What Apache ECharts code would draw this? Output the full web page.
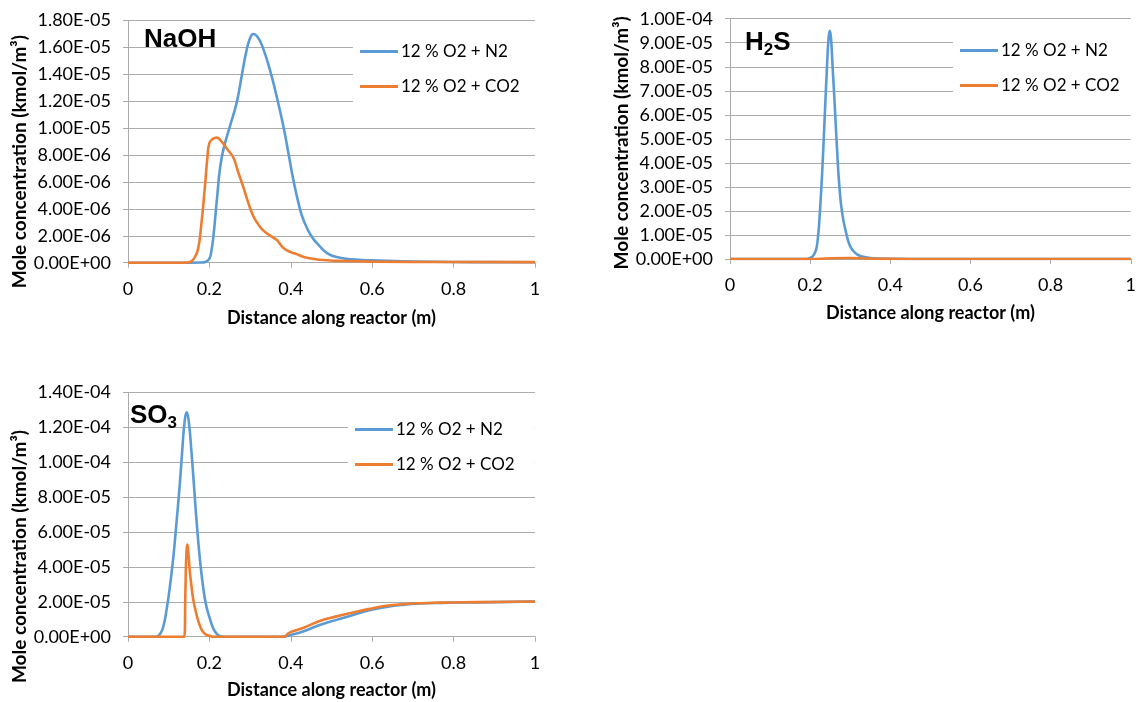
<!DOCTYPE html>
<html>
<head>
<meta charset="utf-8">
<script src="https://cdn.jsdelivr.net/npm/echarts@6/dist/echarts.min.js"></script>
<style>
html,body{margin:0;padding:0;background:#fff;}
#chart{width:1139px;height:702px;}
</style>
</head>
<body>
<div id="chart"></div>
<script>
// ---- Data (x in m, y in kmol/m3) ----
const seriesNames = ['12 % O2 + N2', '12 % O2 + CO2'];
const xTickLabels = ['0', '0.2', '0.4', '0.6', '0.8', '1'];

// NaOH, 12 % O2 + N2 (values x1e-6)
const naohN2X = [0, 0.1, 0.15, 0.18, 0.19, 0.2, 0.205, 0.21, 0.215, 0.22, 0.226, 0.235, 0.25, 0.267, 0.28, 0.29, 0.3, 0.308, 0.318, 0.33, 0.349, 0.365, 0.382, 0.395, 0.406, 0.42, 0.431, 0.45, 0.472, 0.49, 0.513, 0.55, 0.595, 0.7, 0.8, 0.9, 1.0];
const naohN2Y = [0, 0, 0, 0.01, 0.05, 0.3, 0.9, 2.0, 3.6, 5.2, 7.0, 8.5, 10.1, 11.9, 14.0, 15.6, 16.7, 17.0, 16.8, 16.1, 14.3, 12.4, 10.1, 8.0, 6.2, 4.3, 3.2, 2.0, 1.2, 0.7, 0.42, 0.25, 0.17, 0.09, 0.05, 0.04, 0.03];
// NaOH, 12 % O2 + CO2 (values x1e-6)
const naohCO2X = [0, 0.1, 0.14, 0.152, 0.162, 0.172, 0.18, 0.189, 0.195, 0.2, 0.208, 0.218, 0.23, 0.245, 0.259, 0.27, 0.283, 0.295, 0.308, 0.32, 0.332, 0.35, 0.365, 0.372, 0.382, 0.395, 0.414, 0.43, 0.447, 0.47, 0.513, 0.6, 0.8, 1.0];
const naohCO2Y = [0, 0, 0, 0.05, 0.3, 1.0, 2.8, 5.65, 7.8, 8.9, 9.2, 9.3, 9.0, 8.4, 7.8, 6.8, 5.65, 4.5, 3.45, 2.85, 2.4, 2.0, 1.7, 1.45, 1.1, 0.85, 0.64, 0.45, 0.33, 0.22, 0.14, 0.08, 0.05, 0.04];

// H2S, 12 % O2 + N2 (values x1e-5)
const h2sN2X = [0, 0.1, 0.19, 0.2, 0.208, 0.215, 0.22, 0.223, 0.23, 0.236, 0.242, 0.246, 0.249, 0.252, 0.256, 0.261, 0.267, 0.273, 0.28, 0.29, 0.298, 0.306, 0.318, 0.331, 0.35, 0.4, 0.5, 1.0];
const h2sN2Y = [0, 0, 0, 0.05, 0.15, 0.4, 1.0, 1.6, 3.6, 5.8, 8.0, 9.2, 9.5, 9.2, 8.0, 6.5, 4.6, 3.0, 1.9, 1.07, 0.6, 0.37, 0.18, 0.1, 0.04, 0.01, 0, 0];
// H2S, 12 % O2 + CO2 (values x1e-5)
const h2sCO2X = [0, 0.2, 0.25, 0.3, 0.35, 0.4, 0.5, 1.0];
const h2sCO2Y = [0, 0, 0.03, 0.04, 0.02, 0.005, 0, 0];

// SO3, 12 % O2 + N2 (values x1e-5)
const so3N2X = [0, 0.06, 0.07, 0.08, 0.088, 0.094, 0.102, 0.111, 0.119, 0.127, 0.134, 0.139, 0.144, 0.149, 0.156, 0.162, 0.168, 0.176, 0.184, 0.192, 0.201, 0.209, 0.217, 0.225, 0.235, 0.3, 0.38, 0.4, 0.43, 0.471, 0.51, 0.553, 0.59, 0.635, 0.68, 0.717, 0.77, 0.82, 0.9, 1.0];
const so3N2Y = [0, 0, 0, 0.2, 0.7, 1.43, 2.7, 4.48, 6.5, 8.67, 10.9, 12.3, 12.86, 12.4, 10.57, 8.7, 6.77, 4.6, 2.95, 1.8, 1.05, 0.5, 0.19, 0.04, 0, 0, 0, 0.1, 0.3, 0.67, 0.95, 1.24, 1.5, 1.71, 1.84, 1.9, 1.94, 1.96, 1.98, 2.02];
// SO3, 12 % O2 + CO2 (values x1e-5)
const so3CO2X = [0, 0.1, 0.138, 0.141, 0.143, 0.146, 0.149, 0.152, 0.156, 0.16, 0.166, 0.172, 0.178, 0.184, 0.192, 0.2, 0.21, 0.3, 0.38, 0.398, 0.43, 0.471, 0.51, 0.553, 0.59, 0.635, 0.68, 0.717, 0.77, 0.82, 0.9, 1.0];
const so3CO2Y = [0, 0, 0, 2.5, 4.5, 5.28, 4.6, 3.71, 2.9, 2.19, 1.5, 0.95, 0.55, 0.29, 0.12, 0.05, 0, 0, 0, 0.25, 0.5, 0.9, 1.15, 1.39, 1.58, 1.77, 1.87, 1.92, 1.95, 1.97, 1.99, 2.02];

// ---- helpers ----
function pairs(xs, ys, scale) { return xs.map((x, i) => [x, ys[i] * scale]); }
function sci(v) {
  if (Math.abs(v) < 1e-15) return '0.00E+00';
  let e = Math.floor(Math.log10(Math.abs(v)) + 1e-9);
  let m = v / Math.pow(10, e);
  let s = m.toFixed(2);
  if (s === '10.00') { s = '1.00'; e++; }
  return s + 'E' + (e < 0 ? '-' : '+') + String(Math.abs(e)).padStart(2, '0');
}

const BLUE = '#5B9BD5', ORANGE = '#ED7D31', GRID = '#ABABAB';
const FONT = 'Lato, "Open Sans", sans-serif';

const grids = [
  { left: 128, top: 20.6, width: 407, height: 242.1 },
  { left: 730, top: 18.7, width: 403, height: 240.3 },
  { left: 128, top: 392.4, width: 407, height: 244.3 }
];
const yMax = [1.8e-5, 1.0e-4, 1.4e-4];
const yInt = [2e-6, 1e-5, 2e-5];
const xNameGap = [46, 45, 44];
const yNameShift = [20, 4, 42]; // downward offset of the rotated axis title

const xAxes = grids.map((g, i) => ({
  gridIndex: i, type: 'value', min: 0, max: 1, interval: 0.2,
  name: 'Distance along reactor (m)', nameLocation: 'middle', nameGap: xNameGap[i],
  nameTextStyle: { fontFamily: FONT, fontWeight: 'bold', fontSize: 18, color: '#000' },
  axisLine: { show: true, lineStyle: { color: GRID, width: 1 } },
  axisTick: { show: true, inside: false, length: 5, lineStyle: { color: GRID } },
  axisLabel: { margin: 17, fontFamily: FONT, fontSize: 18, color: '#000',
    formatter: v => xTickLabels[Math.round(v / 0.2)] },
  splitLine: { show: false }
}));

const yAxes = grids.map((g, i) => ({
  gridIndex: i, type: 'value', min: 0, max: yMax[i], interval: yInt[i],
  name: 'Mole concentration (kmol/m³)', nameLocation: 'middle', nameGap: 96,
  nameTextStyle: { fontFamily: FONT, fontWeight: 'bold', fontSize: 19, color: '#000',
    padding: [0, 2 * yNameShift[i], 0, 0] },
  axisLine: { show: true, lineStyle: { color: GRID, width: 1 } },
  axisTick: { show: true, inside: false, length: 5, lineStyle: { color: GRID } },
  axisLabel: { margin: 17, fontFamily: FONT, fontSize: 18, color: '#000', formatter: sci },
  splitLine: { show: true, lineStyle: { color: GRID, width: 1 } }
}));

function line(name, idx, data, color) {
  return {
    name: name, type: 'line', xAxisIndex: idx, yAxisIndex: idx, data: data,
    showSymbol: false, symbol: 'none', smooth: 0.5,
    lineStyle: { color: color, width: 2.6 }, itemStyle: { color: color },
    animation: false, z: color === ORANGE ? 3 : 2
  };
}

const series = [
  line(seriesNames[0], 0, pairs(naohN2X, naohN2Y, 1e-6), BLUE),
  line(seriesNames[1], 0, pairs(naohCO2X, naohCO2Y, 1e-6), ORANGE),
  line(seriesNames[0], 1, pairs(h2sN2X, h2sN2Y, 1e-5), BLUE),
  line(seriesNames[1], 1, pairs(h2sCO2X, h2sCO2Y, 1e-5), ORANGE),
  line(seriesNames[0], 2, pairs(so3N2X, so3N2Y, 1e-5), BLUE),
  line(seriesNames[1], 2, pairs(so3CO2X, so3CO2Y, 1e-5), ORANGE)
];

function legend(left, top, right) {
  return {
    data: seriesNames.map(n => ({ name: n })), orient: 'vertical', left: left, top: top,
    icon: 'rect', itemWidth: 38, itemHeight: 3, itemGap: 18,
    backgroundColor: '#fff', padding: [11, right, 10, 7],
    textStyle: { fontFamily: FONT, fontSize: 17, lineHeight: 17, color: '#000', padding: [0, 0, 0, -2] },
    selectedMode: false
  };
}

const titleStyle = { fontFamily: '"Liberation Sans", Arial, sans-serif', fontWeight: 'bold', fontSize: 26, color: '#000' };
const subStyle = Object.assign({}, titleStyle, { fontSize: 17, padding: [15, 0, 0, 0] });
const titles = [
  { text: 'NaOH', left: 144, top: 27, textStyle: titleStyle, padding: 0 },
  { text: '{a|H}{b|2}{a|S}', left: 745, top: 27, padding: 0,
    textStyle: { rich: { a: titleStyle, b: subStyle } } },
  { text: '{a|SO}{b|3}', left: 130, top: 400, padding: 0,
    textStyle: { rich: { a: titleStyle, b: subStyle } } }
];

const chart = echarts.init(document.getElementById('chart'), null, { renderer: 'canvas' });
chart.setOption({
  backgroundColor: '#fff',
  animation: false,
  title: titles,
  grid: grids,
  xAxis: xAxes,
  yAxis: yAxes,
  legend: [legend(353, 32, 30), legend(953, 31, 20), legend(348, 410, 20)],
  series: series
});
</script>
</body>
</html>
